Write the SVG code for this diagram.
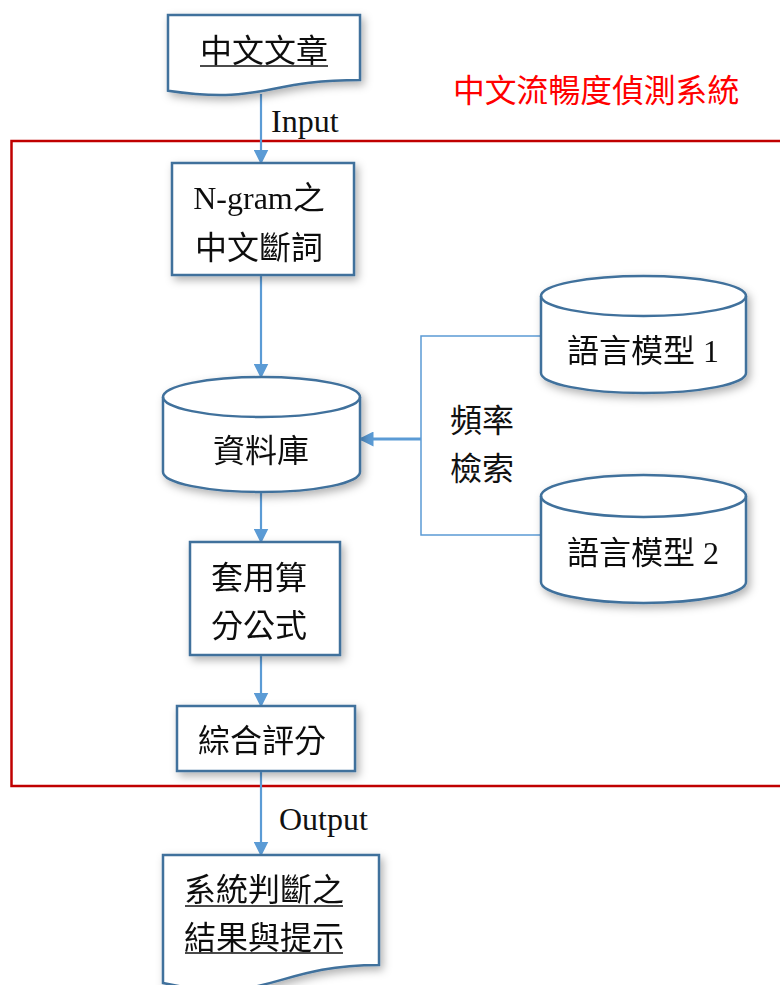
<svg xmlns="http://www.w3.org/2000/svg" width="780" height="985" viewBox="0 0 780 985">
<style>
.shape{fill:#fff;stroke:#41719c;stroke-width:2.5}
.t{font-family:"Liberation Serif","Noto Sans CJK TC",serif;font-size:32px;fill:#111}
.c{text-anchor:middle}
.conn{fill:none;stroke:#5b9bd5;stroke-width:2.2}
.thin{fill:none;stroke:#5b9bd5;stroke-width:1.5}
.ul{stroke:#111;stroke-width:1.5}
</style>
<defs>
<filter id="sh" x="-20%" y="-20%" width="140%" height="140%">
<feDropShadow dx="3" dy="4" stdDeviation="4" flood-color="#000" flood-opacity="0.3"/>
</filter>
<marker id="ah2" viewBox="0 0 10 10" refX="9" refY="5" markerWidth="15" markerHeight="15" markerUnits="userSpaceOnUse" orient="auto">
<path d="M0,0 L10,5 L0,10 Z" fill="#5b9bd5"/>
</marker>
</defs>
<rect id="system-boundary" x="11.5" y="141" width="800" height="645" fill="none" stroke="#c00000" stroke-width="2.5"/>
<text id="title" x="453" y="102" style="font-family:'Noto Sans CJK TC',sans-serif;font-size:31.8px;fill:#ff0000">中文流暢度偵測系統</text>
<g id="connectors">
<path class="conn" d="M261,94 V163" marker-end="url(#ah2)"/>
<path class="conn" d="M261,275 V377" marker-end="url(#ah2)"/>
<path class="conn" d="M261,492 V542" marker-end="url(#ah2)"/>
<path class="conn" d="M261,655 V706" marker-end="url(#ah2)"/>
<path class="conn" d="M261,771 V855" marker-end="url(#ah2)"/>
<path class="thin" d="M541,336 H421 V535 H541"/>
<path class="conn" style="stroke-width:2.8" d="M421,439 H360" marker-end="url(#ah2)"/>
<text class="t" x="271" y="132">Input</text>
<text class="t" x="279" y="830">Output</text>
<text class="t" x="450" y="432">頻率</text>
<text class="t" x="450" y="480">檢索</text>
</g>
<g id="doc-input" filter="url(#sh)">
<path class="shape" d="M168,15 H360 V80 C264,80 264,104.7 168,90.7 Z"/>
<text class="t c" x="264" y="62">中文文章</text>
<line class="ul" x1="200" y1="66" x2="328" y2="66"/>
</g>
<g id="ngram" filter="url(#sh)">
<rect class="shape" x="172" y="163" width="182" height="112"/>
<text class="t c" x="259" y="209">N-gram之</text>
<text class="t c" x="259" y="259">中文斷詞</text>
</g>
<g id="database" filter="url(#sh)">
<path class="shape" d="M163,397 A98.5,20 0 0 1 360,397 V472 A98.5,20 0 0 1 163,472 Z"/>
<path class="shape" style="fill:none" d="M163,397 A98.5,20 0 0 0 360,397"/>
<text class="t c" x="261" y="462">資料庫</text>
</g>
<g id="lm1" filter="url(#sh)">
<path class="shape" d="M541,296 A102.5,20 0 0 1 746,296 V373 A102.5,20 0 0 1 541,373 Z"/>
<path class="shape" style="fill:none" d="M541,296 A102.5,20 0 0 0 746,296"/>
<text class="t" x="567" y="362">語言模型 1</text>
</g>
<g id="lm2" filter="url(#sh)">
<path class="shape" d="M541,496 A102.5,21 0 0 1 746,496 V582 A102.5,21 0 0 1 541,582 Z"/>
<path class="shape" style="fill:none" d="M541,496 A102.5,21 0 0 0 746,496"/>
<text class="t" x="567" y="564">語言模型 2</text>
</g>
<g id="formula" filter="url(#sh)">
<rect class="shape" x="190" y="542" width="150" height="113"/>
<text class="t" x="211" y="589">套用算</text>
<text class="t" x="211" y="637">分公式</text>
</g>
<g id="score" filter="url(#sh)">
<rect class="shape" x="177" y="706" width="178" height="65"/>
<text class="t c" x="262" y="752">綜合評分</text>
</g>
<g id="doc-output" filter="url(#sh)">
<path class="shape" d="M163,855 H379 V965 C271,965 271,1006.6 163,983 Z"/>
<text class="t" x="184" y="901">系統判斷之</text>
<line class="ul" x1="185" y1="906" x2="343" y2="906"/>
<text class="t" x="184" y="949">結果與提示</text>
<line class="ul" x1="185" y1="953" x2="343" y2="953"/>
</g>
</svg>
